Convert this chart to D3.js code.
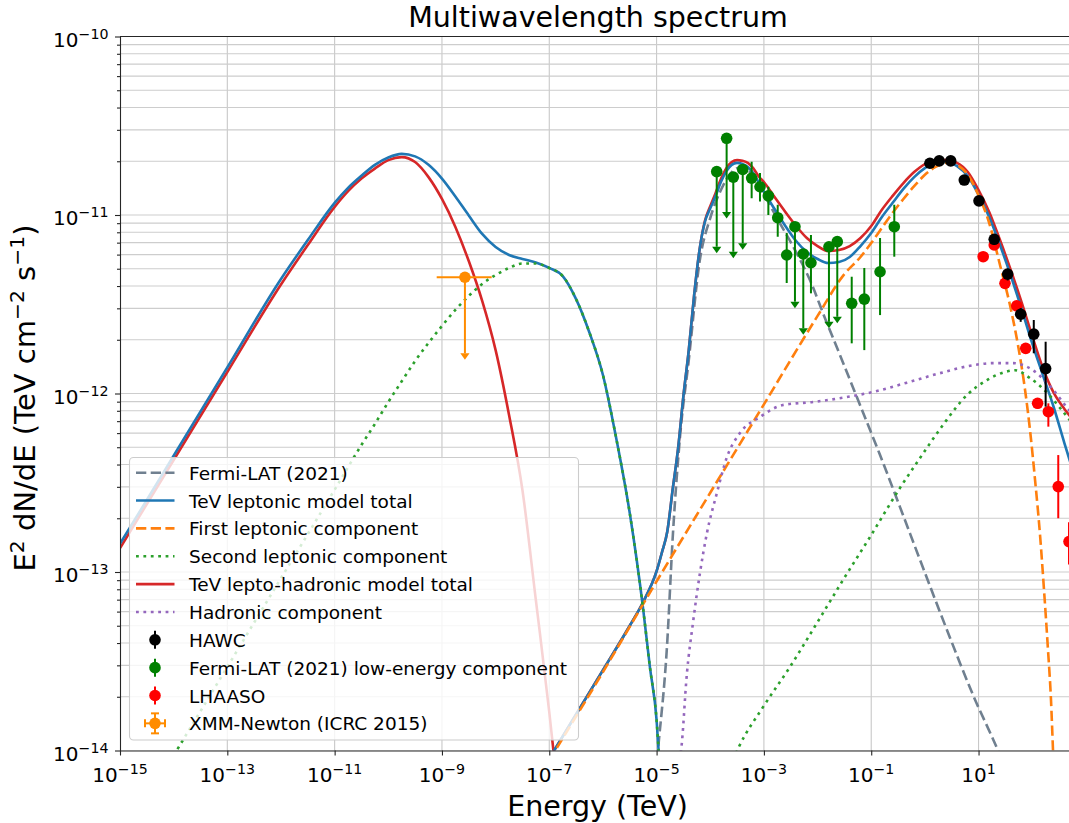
<!DOCTYPE html>
<html>
<head>
<meta charset="utf-8">
<script src="https://cdn.jsdelivr.net/npm/d3@7/dist/d3.min.js"></script>
<style>
  html,body{margin:0;padding:0;background:#fff;}
  svg{display:block;}
  text{font-family:"DejaVu Sans",sans-serif; white-space:pre; fill:#000;}
</style>
</head>
<body>
<svg id="chart" width="1069" height="823"></svg>
<script>
// ================= DATA =================
const xTickExponents = [-15, -13, -11, -9, -7, -5, -3, -1, 1];
const yTickExponents = [-14, -13, -12, -11, -10];

// TeV leptonic model total (blue) - synchrotron part
const leptonicSynchE = [1e-15, 3.16e-15, 1e-14, 1e-13, 1e-12, 3.16e-12, 1e-11, 1.78e-11, 3.16e-11, 5.62e-11, 1e-10, 1.78e-10, 3.16e-10, 5.62e-10, 1e-9, 1.78e-9, 3.16e-9, 5.62e-9, 1e-8, 1.78e-8, 3.16e-8, 5.62e-8, 1e-7, 1.78e-7, 3.16e-7, 5.62e-7, 1e-6, 1.78e-6, 3.16e-6, 5.62e-6, 7.5e-6, 1e-5, 1.12e-5];
const leptonicSynchF = [1.44e-13, 2.53e-13, 4.49e-13, 1.40e-12, 4.38e-12, 7.24e-12, 1.17e-11, 1.42e-11, 1.66e-11, 1.91e-11, 2.10e-11, 2.20e-11, 2.13e-11, 1.91e-11, 1.60e-11, 1.27e-11, 9.94e-12, 7.83e-12, 6.62e-12, 5.97e-12, 5.67e-12, 5.42e-12, 5.05e-12, 4.55e-12, 3.38e-12, 2.19e-12, 1.27e-12, 5.56e-13, 2.14e-13, 6.20e-14, 2.94e-14, 1.48e-14, 8.85e-15];

// TeV leptonic model total (blue) - inverse Compton part
const icE = [1e-7, 1e-6, 3.16e-6, 5.62e-6, 1e-5, 1.26e-5, 1.58e-5, 2.0e-5, 2.51e-5, 3.16e-5, 3.98e-5, 5.01e-5, 6.31e-5, 7.94e-5, 1e-4, 1.26e-4, 1.58e-4, 2.0e-4, 2.51e-4, 3.16e-4, 3.98e-4, 5.01e-4, 6.31e-4, 7.94e-4, 1e-3, 1.58e-3, 2.51e-3, 3.98e-3, 6.31e-3, 0.01, 0.0158, 0.0251, 0.0398, 0.0631, 0.1, 0.158, 0.251, 0.398, 0.631, 1, 1.58, 2.51, 3.98, 6.31, 10, 15.8, 25.1, 39.8, 63.1, 100, 158, 251, 398, 631];
const leptonicICF = [9.02e-15, 2.82e-14, 5.00e-14, 6.79e-14, 1.01e-13, 1.29e-13, 1.68e-13, 2.92e-13, 4.89e-13, 9.68e-13, 1.75e-12, 3.56e-12, 6.37e-12, 9.14e-12, 1.09e-11, 1.28e-11, 1.53e-11, 1.76e-11, 1.91e-11, 1.96e-11, 1.93e-11, 1.86e-11, 1.72e-11, 1.53e-11, 1.35e-11, 1.08e-11, 8.68e-12, 7.15e-12, 6.20e-12, 5.67e-12, 5.38e-12, 5.45e-12, 5.82e-12, 6.70e-12, 7.93e-12, 9.74e-12, 1.17e-11, 1.40e-11, 1.63e-11, 1.83e-11, 1.96e-11, 1.98e-11, 1.88e-11, 1.65e-11, 1.30e-11, 9.74e-12, 6.79e-12, 4.58e-12, 2.99e-12, 1.91e-12, 1.27e-12, 8.40e-13, 5.28e-13, 3.36e-13];

// TeV lepto-hadronic model total (red)
const hadSynchE = [1e-15, 1e-14, 1e-13, 1e-12, 3.16e-12, 1e-11, 1.78e-11, 3.16e-11, 5.62e-11, 1e-10, 1.78e-10, 3.16e-10, 5.62e-10, 1e-9, 1.78e-9, 3.16e-9, 5.62e-9, 1e-8, 1.78e-8, 3.16e-8, 5.62e-8, 1e-7, 1.22e-7];
const hadSynchF = [1.36e-13, 4.24e-13, 1.32e-12, 4.08e-12, 6.79e-12, 1.11e-11, 1.36e-11, 1.60e-11, 1.82e-11, 2.03e-11, 2.11e-11, 1.98e-11, 1.63e-11, 1.23e-11, 8.57e-12, 5.52e-12, 3.30e-12, 1.75e-12, 7.58e-13, 2.88e-13, 6.97e-14, 1.64e-14, 9.44e-15];
const hadICF = [9.02e-15, 2.82e-14, 5.00e-14, 6.79e-14, 1.01e-13, 1.29e-13, 1.68e-13, 2.92e-13, 4.89e-13, 9.68e-13, 1.75e-12, 3.56e-12, 6.37e-12, 9.26e-12, 1.12e-11, 1.33e-11, 1.59e-11, 1.83e-11, 1.98e-11, 2.03e-11, 2.01e-11, 1.96e-11, 1.83e-11, 1.65e-11, 1.53e-11, 1.26e-11, 1.04e-11, 8.68e-12, 7.43e-12, 6.70e-12, 6.28e-12, 6.37e-12, 6.70e-12, 7.43e-12, 8.68e-12, 1.07e-11, 1.28e-11, 1.51e-11, 1.74e-11, 1.93e-11, 2.02e-11, 2.03e-11, 1.96e-11, 1.74e-11, 1.38e-11, 1.04e-11, 7.24e-12, 4.92e-12, 3.26e-12, 2.10e-12, 1.39e-12, 1.01e-12, 8.19e-13, 6.92e-13];

// First leptonic component (orange dashed)
const firstE = [1e-7, 1e-6, 1e-5, 1e-4, 1e-3, 1e-2, 3.16e-2, 6.31e-2, 0.1, 0.158, 0.251, 0.398, 0.631, 1, 1.58, 2.51, 3.16, 3.98, 6.31, 10, 15.8, 25.1, 38.5, 54.3, 73.5, 91.0, 113, 140, 166, 197, 224, 244, 266];
const firstF = [8.8e-15, 2.75e-14, 8.86e-14, 2.78e-13, 8.69e-13, 2.72e-12, 4.67e-12, 5.82e-12, 6.97e-12, 8.46e-12, 1.03e-11, 1.23e-11, 1.45e-11, 1.68e-11, 1.86e-11, 1.96e-11, 1.97e-11, 1.91e-11, 1.68e-11, 1.29e-11, 9.02e-12, 5.25e-12, 3.13e-12, 1.87e-12, 1.05e-12, 6.24e-13, 3.28e-13, 1.61e-13, 7.93e-14, 3.66e-14, 1.92e-14, 1.01e-14, 5.28e-15];

// Second leptonic component (green dotted)
const secondSynchE = [1e-14, 3.16e-14, 1e-13, 3.16e-13, 1e-12, 3.16e-12, 1e-11, 3.16e-11, 5.62e-11, 1e-10, 1.78e-10, 3.16e-10, 5.62e-10, 1e-9, 1.78e-9, 3.16e-9, 5.62e-9, 1e-8, 1.78e-8, 3.16e-8, 5.62e-8, 1e-7, 1.78e-7, 3.16e-7, 5.62e-7, 1e-6, 1.78e-6, 3.16e-6, 5.62e-6, 7.5e-6, 1e-5, 1.12e-5];
const secondSynchF = [9.39e-15, 1.66e-14, 2.94e-14, 5.21e-14, 9.23e-14, 1.63e-13, 2.89e-13, 5.15e-13, 6.75e-13, 8.96e-13, 1.17e-12, 1.52e-12, 1.92e-12, 2.39e-12, 2.94e-12, 3.52e-12, 4.11e-12, 4.61e-12, 5.05e-12, 5.35e-12, 5.35e-12, 5.05e-12, 4.55e-12, 3.38e-12, 2.19e-12, 1.27e-12, 5.56e-13, 2.14e-13, 6.20e-14, 2.94e-14, 1.48e-14, 8.85e-15];
const secondICE = [2.65e-4, 3.43e-4, 9.62e-4, 3.06e-3, 9.75e-3, 0.0298, 0.0948, 0.344, 0.811, 2.17, 6.10, 14.4, 31.1, 47.8, 91.0, 189, 330, 655];
const secondICF = [8.85e-15, 1.05e-14, 1.75e-14, 2.94e-14, 5.18e-14, 9.02e-14, 1.57e-13, 2.96e-13, 4.35e-13, 6.66e-13, 9.81e-13, 1.19e-12, 1.32e-12, 1.35e-12, 1.22e-12, 1.01e-12, 8.30e-13, 6.41e-13];

// Fermi-LAT (2021) model (slategray dashed)
const fermiModelE = [9.1e-6, 1.06e-5, 1.56e-5, 2.02e-5, 2.73e-5, 3.98e-5, 6.31e-5, 1e-4, 1.58e-4, 2.51e-4, 3.98e-4, 6.31e-4, 1e-3, 1.75e-3, 3.79e-3, 7.21e-3, 0.0137, 0.0262, 0.0618, 0.146, 0.344, 0.811, 2.58, 7.87, 23.0, 38.5];
const fermiModelF = [6.0e-15, 1.0e-14, 3.80e-14, 1.65e-13, 5.71e-13, 1.54e-12, 5.45e-12, 9.62e-12, 1.38e-11, 1.74e-11, 1.86e-11, 1.65e-11, 1.31e-11, 9.62e-12, 6.37e-12, 4.32e-12, 2.65e-12, 1.64e-12, 8.62e-13, 4.52e-13, 2.31e-13, 1.17e-13, 4.73e-14, 2.05e-14, 1.0e-14, 6.83e-15];

// Hadronic component (purple dotted)
const hadronicE = [2.61e-5, 2.85e-5, 3.68e-5, 4.76e-5, 6.43e-5, 8.67e-5, 1.33e-4, 2.05e-4, 3.57e-4, 8.45e-4, 2.26e-3, 8.22e-3, 0.0353, 0.108, 0.463, 1.91, 7.87, 18.6, 43.9, 103, 244, 484, 655];
const hadronicF = [8.85e-15, 1.0e-14, 2.72e-14, 5.18e-14, 9.87e-14, 1.65e-13, 2.77e-13, 4.41e-13, 6.01e-13, 7.38e-13, 8.62e-13, 8.96e-13, 9.56e-13, 1.02e-12, 1.15e-12, 1.30e-12, 1.44e-12, 1.48e-12, 1.48e-12, 1.35e-12, 1.05e-12, 8.08e-13, 7.29e-13];

// HAWC data
const hawcE  = [1.24, 1.85, 3.03, 5.42, 10.2, 19.6, 34.9, 61.0, 107, 178];
const hawcF  = [1.95e-11, 2.01e-11, 2.01e-11, 1.57e-11, 1.20e-11, 7.31e-12, 4.67e-12, 2.78e-12, 2.15e-12, 1.38e-12];
const hawcLo = [1.85e-11, 1.91e-11, 1.91e-11, 1.49e-11, 1.13e-11, 6.8e-12, 4.3e-12, 2.52e-12, 1.68e-12, 8.44e-13];
const hawcHi = [2.05e-11, 2.11e-11, 2.11e-11, 1.65e-11, 1.27e-11, 7.8e-12, 5.0e-12, 3.01e-12, 2.58e-12, 1.95e-12];

// Fermi-LAT (2021) low-energy component: detections
const fermiE  = [5.91e-4, 8.45e-4, 1.21e-3, 1.81e-3, 2.66e-3, 7.53e-3, 0.0433, 0.0743, 0.146, 0.269];
const fermiF  = [1.61e-11, 1.44e-11, 1.28e-11, 9.66e-12, 5.97e-12, 5.40e-12, 3.20e-12, 3.38e-12, 4.81e-12, 8.60e-12];
const fermiLo = [1.24e-11, 1.19e-11, 1.00e-11, 7.56e-12, 4.16e-12, 3.64e-12, 1.91e-12, 1.75e-12, 2.75e-12, 5.84e-12];
const fermiHi = [1.99e-11, 1.72e-11, 1.44e-11, 1.14e-11, 7.93e-12, 7.73e-12, 4.51e-12, 5.05e-12, 7.43e-12, 1.14e-11];
// Fermi-LAT (2021) low-energy component: upper limits
const fermiUlE   = [1.32e-4, 2.02e-4, 2.69e-4, 4.03e-4, 3.79e-3, 5.42e-3, 0.0163, 0.0233];
const fermiUlF   = [1.75e-11, 2.69e-11, 1.63e-11, 1.80e-11, 8.60e-12, 6.05e-12, 6.64e-12, 7.09e-12];
const fermiUlEnd = [6.64e-12, 1.04e-11, 6.23e-12, 6.94e-12, 3.27e-12, 2.32e-12, 2.52e-12, 2.69e-12];

// LHAASO data
const lhaasoE  = [12.2, 19.6, 31.1, 51.4, 75.7, 126, 200, 306, 485];
const lhaasoF  = [5.84e-12, 6.79e-12, 4.14e-12, 3.10e-12, 1.79e-12, 8.81e-13, 7.91e-13, 3.01e-13, 1.48e-13];
const lhaasoLo = [5.5e-12, 6.4e-12, 3.9e-12, 2.9e-12, 1.68e-12, 8.2e-13, 6.52e-13, 2.00e-13, 1.1e-13];
const lhaasoHi = [6.2e-12, 7.2e-12, 4.4e-12, 3.3e-12, 1.9e-12, 9.4e-13, 8.81e-13, 4.52e-13, 1.9e-13];

// XMM-Newton (ICRC 2015) upper limit
const xmmE = [2.68e-9], xmmElo = [7.98e-10], xmmEhi = [8.45e-9];
const xmmF = [4.48e-12], xmmUlEnd = [1.68e-12];

const legendLabels = ["Fermi-LAT (2021)", "TeV leptonic model total", "First leptonic component", "Second leptonic component", "TeV lepto-hadronic model total", "Hadronic component", "HAWC", "Fermi-LAT (2021) low-energy component", "LHAASO", "XMM-Newton (ICRC 2015)"];

// ================= DRAWING =================
const W = 1069, H = 823;
const L = 120, R = 1076, T = 36.5, B = 750.5;
const x = d3.scaleLog().domain([1e-15, 655]).range([L, R]);
const y = d3.scaleLog().domain([1e-14, 1e-10]).range([B, T]);

const C = {gray:"#708090", blue:"#1f77b4", orange:"#ff7f0e", green:"#2ca02c", red:"#d62728", purple:"#9467bd"};
const LW = 2.6;
const DASH = "10.3,4.4", DOT = "2.8,4.6";

const svg = d3.select("#chart");
svg.append("rect").attr("width", W).attr("height", H).attr("fill", "#fff");
svg.append("defs").append("clipPath").attr("id", "clip")
  .append("rect").attr("x", L).attr("y", T).attr("width", R - L).attr("height", B - T);

// grid
const xTickVals = xTickExponents.map(e => Math.pow(10, e));
const yMajor = yTickExponents.map(e => Math.pow(10, e));
const yMinor = [];
for (let e = -14; e < -10; e++) for (let m = 2; m <= 9; m++) yMinor.push(m * Math.pow(10, e));

const grid = svg.append("g").attr("clip-path", "url(#clip)");
grid.selectAll("line.gv").data(xTickVals).join("line")
  .attr("x1", d => x(d)).attr("x2", d => x(d)).attr("y1", T).attr("y2", B)
  .attr("stroke", "#c8c8c8").attr("stroke-width", 1.1);
grid.selectAll("line.gh").data(yMajor.concat(yMinor)).join("line")
  .attr("x1", L).attr("x2", R).attr("y1", d => y(d)).attr("y2", d => y(d))
  .attr("stroke", "#cdcdcd").attr("stroke-width", 1.1);

// curves
const plot = svg.append("g").attr("clip-path", "url(#clip)");
const line = d3.line().x(d => x(d[0])).y(d => y(d[1])).curve(d3.curveMonotoneX);
function curve(E, F, color, dash) {
  plot.append("path").datum(E.map((e, i) => [e, F[i]]))
    .attr("d", line).attr("fill", "none").attr("stroke", color)
    .attr("stroke-width", LW).attr("stroke-dasharray", dash || null)
    .attr("stroke-linejoin", "round");
}
curve(fermiModelE, fermiModelF, C.gray, DASH);
curve(hadSynchE, hadSynchF, C.red);
curve(icE, hadICF, C.red);
curve(leptonicSynchE, leptonicSynchF, C.blue);
curve(icE, leptonicICF, C.blue);
curve(firstE, firstF, C.orange, DASH);
curve(secondSynchE, secondSynchF, C.green, DOT);
curve(secondICE, secondICF, C.green, DOT);
curve(hadronicE, hadronicF, C.purple, DOT);

// data points
const pts = svg.append("g").attr("clip-path", "url(#clip)");
const MR = 5.8;
function errPoints(E, F, lo, hi, color) {
  E.forEach((e, i) => {
    pts.append("line").attr("x1", x(e)).attr("x2", x(e)).attr("y1", y(lo[i])).attr("y2", y(hi[i]))
      .attr("stroke", color).attr("stroke-width", 2);
  });
  E.forEach((e, i) => {
    pts.append("circle").attr("cx", x(e)).attr("cy", y(F[i])).attr("r", MR).attr("fill", color);
  });
}
function arrowHead(g, cx, cy, color) {
  g.append("path").attr("d", `M${cx - 4.6},${cy}L${cx + 4.6},${cy}L${cx},${cy + 6.5}Z`).attr("fill", color);
}
function ulPoints(E, F, end, color) {
  E.forEach((e, i) => {
    pts.append("line").attr("x1", x(e)).attr("x2", x(e)).attr("y1", y(F[i])).attr("y2", y(end[i]))
      .attr("stroke", color).attr("stroke-width", 2);
    arrowHead(pts, x(e), y(end[i]), color);
  });
  E.forEach((e, i) => {
    pts.append("circle").attr("cx", x(e)).attr("cy", y(F[i])).attr("r", MR).attr("fill", color);
  });
}
errPoints(lhaasoE, lhaasoF, lhaasoLo, lhaasoHi, "#ff0000");
errPoints(hawcE, hawcF, hawcLo, hawcHi, "#000000");
errPoints(fermiE, fermiF, fermiLo, fermiHi, "#008000");
ulPoints(fermiUlE, fermiUlF, fermiUlEnd, "#008000");
// XMM
xmmE.forEach((e, i) => {
  const c = "#ff8c00";
  pts.append("line").attr("x1", x(xmmElo[i])).attr("x2", x(xmmEhi[i])).attr("y1", y(xmmF[i])).attr("y2", y(xmmF[i]))
    .attr("stroke", c).attr("stroke-width", 2);
  pts.append("line").attr("x1", x(e)).attr("x2", x(e)).attr("y1", y(xmmF[i])).attr("y2", y(xmmUlEnd[i]))
    .attr("stroke", c).attr("stroke-width", 2);
  arrowHead(pts, x(e), y(xmmUlEnd[i]), c);
  pts.append("circle").attr("cx", x(e)).attr("cy", y(xmmF[i])).attr("r", MR).attr("fill", c);
});

// axes
const axisColor = "#262626";
const xAxis = svg.append("g").attr("transform", `translate(0,${B})`)
  .call(d3.axisBottom(x).tickValues(xTickVals).tickSize(5).tickSizeOuter(0).tickFormat(() => ""));
const yAxis = svg.append("g").attr("transform", `translate(${L},0)`)
  .call(d3.axisLeft(y).tickValues(yMajor).tickSize(5).tickSizeOuter(0).tickFormat(() => ""));
const yAxisMinor = svg.append("g").attr("transform", `translate(${L},0)`)
  .call(d3.axisLeft(y).tickValues(yMinor).tickSize(3).tickSizeOuter(0).tickFormat(() => ""));
yAxisMinor.select(".domain").remove();
[xAxis, yAxis, yAxisMinor].forEach(a => {
  a.selectAll("path,line").attr("stroke", axisColor).attr("stroke-width", 1.1);
});
svg.append("line").attr("x1", L).attr("x2", R).attr("y1", T).attr("y2", T)
  .attr("stroke", axisColor).attr("stroke-width", 1.1);

// tick labels
function powLabel(g, px, py, exp, anchor) {
  const t = g.append("text").attr("x", px).attr("y", py).attr("text-anchor", anchor).attr("font-size", 20);
  t.append("tspan").text("10");
  t.append("tspan").attr("dy", -8).attr("font-size", 14.2).text(String(exp).replace("-", "\u2212"));
}
xTickExponents.forEach(e => powLabel(svg, x(Math.pow(10, e)), 782, e, "middle"));
yTickExponents.forEach(e => powLabel(svg, 108.5, y(Math.pow(10, e)) + 10, e, "end"));

// titles
svg.append("text").attr("x", 598).attr("y", 27).attr("text-anchor", "middle")
  .attr("font-size", 28.5).text("Multiwavelength spectrum");
svg.append("text").attr("x", 597.5).attr("y", 816).attr("text-anchor", "middle")
  .attr("font-size", 28.5).text("Energy (TeV)");
const yl = svg.append("text").attr("transform", "translate(35,398) rotate(-90)")
  .attr("text-anchor", "middle").attr("font-size", 29);
const ylParts = [["E", 0], ["2", 1], [" dN/dE (TeV cm", 0], ["\u22122", 1], [" s", 0], ["\u22121", 1], [")", 0]];
let raised = false;
ylParts.forEach(([s, sup]) => {
  const ts = yl.append("tspan").text(s);
  if (sup && !raised) { ts.attr("dy", -11).attr("font-size", 20.3); raised = true; }
  else if (sup) { ts.attr("font-size", 20.3); }
  else if (raised) { ts.attr("dy", 11); raised = false; }
});

// legend
const lg = svg.append("g");
lg.append("rect").attr("x", 129.5).attr("y", 457.5).attr("width", 449).attr("height", 282.5)
  .attr("rx", 4).attr("fill", "#fff").attr("fill-opacity", 0.8)
  .attr("stroke", "#cccccc").attr("stroke-width", 1.1);
const rowY = i => 472.7 + i * 27.85;
const lineHandles = [[C.gray, DASH], [C.blue, null], [C.orange, DASH], [C.green, DOT], [C.red, null], [C.purple, DOT]];
lineHandles.forEach(([c, d], i) => {
  lg.append("line").attr("x1", 136).attr("x2", 174.5).attr("y1", rowY(i)).attr("y2", rowY(i))
    .attr("stroke", c).attr("stroke-width", LW).attr("stroke-dasharray", d);
});
const markerHandles = ["#000000", "#008000", "#ff0000"];
markerHandles.forEach((c, k) => {
  const yy = rowY(6 + k);
  lg.append("line").attr("x1", 155).attr("x2", 155).attr("y1", yy - 9).attr("y2", yy + 9).attr("stroke", c).attr("stroke-width", 2);
  lg.append("circle").attr("cx", 155).attr("cy", yy).attr("r", MR).attr("fill", c);
});
{
  const yy = rowY(9), c = "#ff8c00";
  lg.append("line").attr("x1", 145).attr("x2", 165).attr("y1", yy).attr("y2", yy).attr("stroke", c).attr("stroke-width", 2);
  lg.append("line").attr("x1", 155).attr("x2", 155).attr("y1", yy - 10).attr("y2", yy + 10).attr("stroke", c).attr("stroke-width", 2);
  [[145, yy - 4, 145, yy + 4], [165, yy - 4, 165, yy + 4], [151, yy - 10, 159, yy - 10], [151, yy + 10, 159, yy + 10]]
    .forEach(([a, b, cc, d]) => lg.append("line").attr("x1", a).attr("y1", b).attr("x2", cc).attr("y2", d).attr("stroke", c).attr("stroke-width", 2));
  lg.append("circle").attr("cx", 155).attr("cy", yy).attr("r", MR).attr("fill", c);
}
legendLabels.forEach((s, i) => {
  lg.append("text").attr("x", 189).attr("y", rowY(i) + 7).attr("font-size", 18.5).text(s);
});
</script>
</body>
</html>
